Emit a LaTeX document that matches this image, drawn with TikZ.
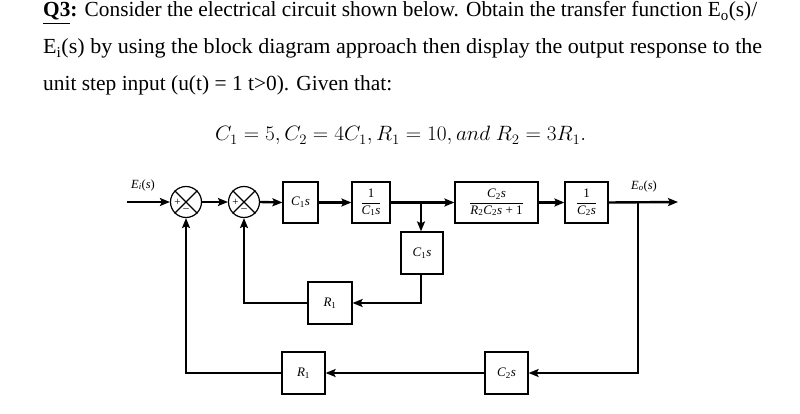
\documentclass[tikz,border=0pt]{standalone}
\usepackage{amsmath}
\usepackage{fontspec}
\setmainfont{Liberation Serif}
\usetikzlibrary{arrows.meta,calc}
\newcommand\Cs[1]{\textit{C}\textsubscript{#1}\textit{s}}
\newcommand\Rr[1]{\textit{R}\textsubscript{#1}}
\begin{document}
\begin{tikzpicture}[x=1pt,y=-1pt,
  txt/.style={anchor=base west,inner sep=0pt,font=\fontsize{21.5}{24}\selectfont},
  blk/.style={draw,line width=1.2pt,inner sep=1pt,font=\fontsize{13}{15}\selectfont},
  sumj/.style={draw,circle,line width=1.2pt,minimum size=31pt,inner sep=0pt},
  sig/.style={line width=2.4pt,-{Stealth[length=10pt,width=8pt,inset=2pt]}},
  fb/.style={line width=2pt,-{Stealth[length=10pt,width=8pt,inset=2pt]}},
  sgn/.style={font=\fontsize{11}{11}\selectfont,inner sep=0pt},
  lbl/.style={font=\fontsize{12.5}{14}\selectfont,inner sep=0pt}]
\useasboundingbox (0,0) rectangle (800,414);
% text
\node[txt] (t1) at (43,17) {\resizebox{714pt}{\height}{\underline{\textbf{Q3}}\textbf{:} Consider the electrical circuit shown below. Obtain the transfer function E\textsubscript{o}(s)/}};
\node[txt] (t2) at (43,54) {\resizebox{719pt}{\height}{E\textsubscript{i}(s) by using the block diagram approach then display the output response to the}};
\node[txt] (t3) at (43,91) {\resizebox{349pt}{\height}{unit step input (u(t) = 1 t>0). Given that:}};
\node[anchor=base west,inner sep=0pt,font=\fontsize{22}{24}\selectfont] (eq) at (215,141) {\resizebox{371pt}{\height}{$C_1 = 5, C_2 = 4C_1, R_1 = 10, and\ R_2 = 3R_1.$}};
% summing junctions
\node[sumj] (s1) at (186,202) {};
\node[sumj] (s2) at (244,202) {};
\foreach \s in {s1,s2}{
  \draw[line width=1.2pt] (\s.north east) -- (\s.south west);
  \draw[line width=1.2pt] (\s.north west) -- (\s.south east);
  \node[sgn] at ($(\s)+(-8.5,0)$) {+};
  \node[sgn] at ($(\s)+(0,8.5)$) {--};
}
% forward blocks
\node[blk,minimum width=35pt,minimum height=41pt] (b1) at (300.5,202.5) {\Cs{1}};
\node[blk,minimum width=38pt,minimum height=41pt] (b2) at (371,202.5) {$\dfrac{\hbox{1}}{\hbox{\Cs{1}}}$};
\node[blk,minimum width=83pt,minimum height=41pt] (b3) at (496.5,202.5) {$\dfrac{\hbox{\Cs{2}}}{\hbox{\Rr{2}\Cs{2} + 1}}$};
\node[blk,minimum width=43pt,minimum height=41pt] (b4) at (586.5,202.5) {$\dfrac{\hbox{1}}{\hbox{\Cs{2}}}$};
% feedback blocks
\node[blk,minimum width=42pt,minimum height=42pt] (f1) at (422,253) {\Cs{1}};
\node[blk,minimum width=44pt,minimum height=42pt] (f2) at (330,303) {\Rr{1}};
\node[blk,minimum width=43pt,minimum height=42pt] (f3) at (303.5,373) {\Rr{1}};
\node[blk,minimum width=43pt,minimum height=42pt] (f4) at (506.5,373) {\Cs{2}};
% coordinates
\coordinate (in) at (127,202);
\coordinate (out) at (678,202);
\coordinate (br1) at (421,202);
\coordinate (br2) at (638,202);
% labels
\node[lbl] (lin) at (143,185) {\textit{E}\textsubscript{\textit{i}}(\textit{s})};
\node[lbl] (lout) at (644,186) {\textit{E}\textsubscript{\textit{o}}(\textit{s})};
% forward path
\draw[sig] (in) -- (s1.west);
\draw[sig] (s1.east) -- (s2.west);
\draw[sig] (s2.east) -- (b1.west);
\draw[sig] (b1.east) -- (b2.west);
\draw[sig] (b2.east) -- (b3.west);
\draw[sig] (b3.east) -- (b4.west);
\draw[sig] (b4.east) -- (out);
% inner loop
\draw[fb] (br1) -- (br1 |- f1.north);
\draw[fb] (f1.south -| br1) |- (f2.east);
\draw[fb] (f2.west) -| (s2.south);
% outer loop
\draw[fb] (br2) |- (f4.east);
\draw[fb] (f4.west) -- (f3.east);
\draw[fb] (f3.west) -| (s1.south);
\end{tikzpicture}
\end{document}
